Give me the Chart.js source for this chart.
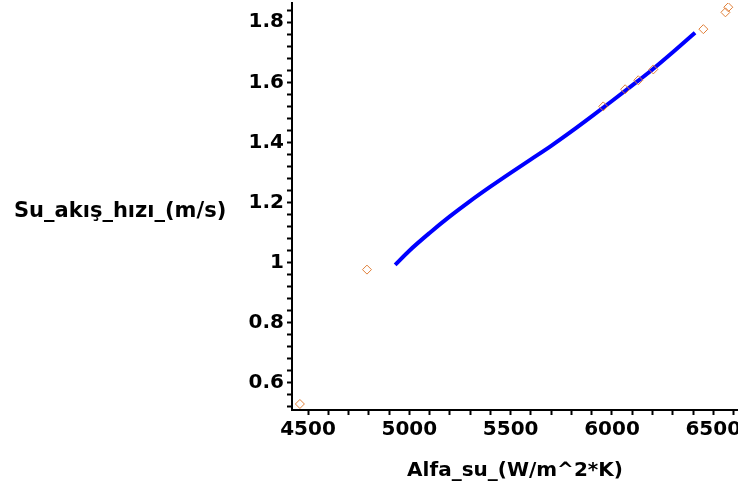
<!DOCTYPE html>
<html>
<head>
<meta charset="utf-8">
<script src="https://cdn.jsdelivr.net/npm/chart.js@4"></script>
<style>
  html, body { margin: 0; padding: 0; background: #fff; }
  #wrap { width: 738px; height: 497px; position: relative; }
</style>
</head>
<body>
<div id="wrap"><canvas id="chart" width="738" height="497"></canvas></div>
<script>
// measured points (diamonds)
var measX = [4460, 4791, 5957, 6065, 6130, 6204, 6451, 6560, 6574];
var measY = [0.53, 0.977, 1.52, 1.577, 1.607, 1.643, 1.777, 1.833, 1.85];

// fitted curve (blue line)
var fitX = [4930, 5000, 5100, 5200, 5300, 5400, 5500, 5600, 5700, 5800, 5900, 6000, 6100, 6200, 6300, 6410];
var fitY = [0.993, 1.04, 1.099, 1.154, 1.205, 1.253, 1.299, 1.344, 1.389, 1.437, 1.487, 1.538, 1.59, 1.643, 1.70, 1.765];

// tick marks: labelled ones and the small ones between them
var xTicks = [4500, 5000, 5500, 6000, 6500];
var xMinor = 100;
var yTicks = [0.6, 0.8, 1, 1.2, 1.4, 1.6, 1.8];
var yMinor = 0.04;

var xLabel = 'Alfa_su_(W/m^2*K)';
var yLabel = 'Su_akış_hızı_(m/s)';

function toPts(xs, ys) {
  return xs.map(function (x, i) { return { x: x, y: ys[i] }; });
}

// all tick positions (major + minor) inside the scale range
function buildTicks(scale, major, step) {
  var out = [];
  var start = Math.ceil(scale.min / step - 1e-9);
  var end = Math.floor(scale.max / step + 1e-9);
  for (var k = start; k <= end; k++) {
    var v = Math.round(k * step * 1000) / 1000;
    out.push({ value: v, major: major.indexOf(v) >= 0 });
  }
  scale.ticks = out;
}

var tickFont = { family: 'DejaVu Sans', weight: 'bold', size: 20 };
var titleFont = { family: 'DejaVu Sans', weight: 'bold', size: 20 };

// horizontal y-axis title on the left
var yTitlePlugin = {
  id: 'yTitle',
  afterDraw: function (chart) {
    var ctx = chart.ctx;
    ctx.save();
    ctx.font = 'bold 21px "DejaVu Sans"';
    ctx.fillStyle = '#000';
    ctx.textAlign = 'left';
    ctx.textBaseline = 'middle';
    ctx.fillText(yLabel, 14, 212);
    ctx.restore();
  }
};

new Chart(document.getElementById('chart'), {
  type: 'scatter',
  data: {
    datasets: [
      { label: 'meas', data: toPts(measX, measY), order: 0, pointStyle: 'rectRot', pointRadius: 4.5,
        borderColor: '#E0803A', backgroundColor: 'rgba(255,255,255,0)', borderWidth: 1, showLine: false },
      { label: 'fit', data: toPts(fitX, fitY), order: 1, showLine: true, borderColor: '#0000FF',
        borderWidth: 4, pointRadius: 0, cubicInterpolationMode: 'monotone', fill: false }
    ]
  },
  options: {
    responsive: false,
    animation: false,
    layout: { autoPadding: false, padding: { top: 3, right: 0, left: 0, bottom: 0 } },
    plugins: { legend: { display: false }, tooltip: { enabled: false } },
    scales: {
      x: {
        type: 'linear', min: 4421, max: 6622,
        border: { display: true, color: '#000', width: 2 },
        grid: { drawOnChartArea: false, drawTicks: true, tickLength: 5, tickColor: '#000', tickWidth: 2 },
        afterBuildTicks: function (s) { buildTicks(s, xTicks, xMinor); },
        ticks: {
          autoSkip: false, maxRotation: 0, minRotation: 0, padding: 3,
          color: '#000', font: tickFont,
          callback: function (v) { return xTicks.indexOf(v) >= 0 ? String(v) : ''; }
        },
        title: { display: true, text: xLabel, color: '#000', font: titleFont, padding: { top: 4, bottom: 14 } },
        afterFit: function (s) { s.height = 87; s.paddingLeft = 0; s.paddingRight = 0; }
      },
      y: {
        type: 'linear', min: 0.51, max: 1.864,
        border: { display: true, color: '#000', width: 2 },
        grid: { drawOnChartArea: false, drawTicks: true, tickLength: 5, tickColor: '#000', tickWidth: 2 },
        afterBuildTicks: function (s) { buildTicks(s, yTicks, yMinor); },
        ticks: {
          autoSkip: false, padding: 3,
          color: '#000', font: tickFont,
          callback: function (v) { return yTicks.indexOf(v) >= 0 ? String(v) : ''; }
        },
        afterFit: function (s) { s.width = 292; s.paddingTop = 0; s.paddingBottom = 0; }
      }
    }
  },
  plugins: [yTitlePlugin]
});
</script>
</body>
</html>
